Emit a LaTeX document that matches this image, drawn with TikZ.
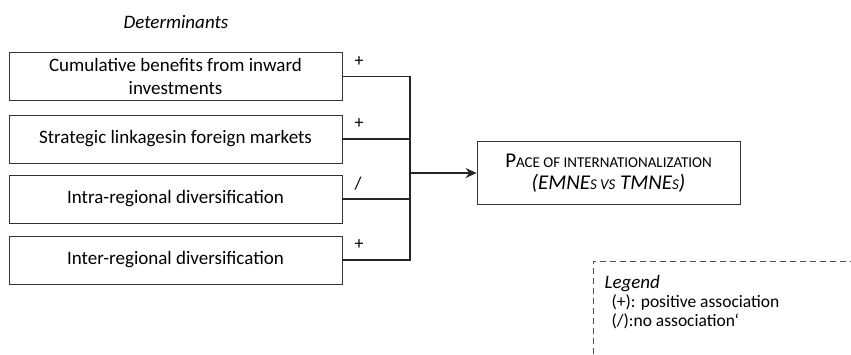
\documentclass[tikz,border=0pt]{standalone}
\usepackage{fontspec}
\setmainfont{Carlito}
\usetikzlibrary{arrows.meta}
\newcommand{\fsc}[1]{{\fontsize{15}{22}\selectfont #1}}
\begin{document}
\begin{tikzpicture}[
    x=1pt, y=-1pt,
    box/.style={draw=black!80, line width=0.8pt, minimum width=333pt,
                minimum height=48pt, font=\fontsize{19}{23}\selectfont,
                align=center, inner sep=2pt},
    goal/.style={draw=black!80, line width=0.8pt, minimum width=263pt,
                 minimum height=63pt, font=\fontsize{21}{22}\selectfont,
                 align=center},
    link/.style={line width=1.8pt, black!85},
    arr/.style={link, -{Stealth[length=11pt, width=10pt]}},
    lbl/.style={font=\fontsize{18}{20}\selectfont, anchor=west},
    legtext/.style={font=\fontsize{17.5}{18}\selectfont, anchor=west},
]
\useasboundingbox (0,0) rectangle (851,354);

% Heading
\node[font=\fontsize{19}{21}\selectfont\itshape] (head) at (176,22) {Determinants};

% Determinant boxes
\node[box] (cum)   at (175.5,76.5) {Cumulative benefits from inward\\investments};
\node[box] (strat) at (175.5,139)  {Strategic linkagesin foreign markets};
\node[box] (intra) at (175.5,199)  {Intra-regional diversification};
\node[box] (inter) at (175.5,260)  {Inter-regional diversification};

% Outcome
\node[goal] (pace) at (608.5,173)
    {P\fsc{ACE OF INTERNATIONALIZATION}\\\textit{(EMNE\fsc{S VS} TMNE\fsc{S})}};

% Links to the collecting line
\coordinate (top) at (410,77);
\coordinate (bot) at (410,259);
\draw[link] (cum.east)   -| (top) -- (bot);
\draw[link] (strat.east) -- (strat.east -| top);
\draw[link] (intra.east) -- (intra.east -| top);
\draw[link] (inter.east) -| (bot);
\draw[arr] (pace.west -| top) -- (pace.west);

% Signs
\node[lbl] (s1) at (351,62)  {+};
\node[lbl] (s2) at (351,124) {+};
\node[lbl] (s3) at (351,184) {/};
\node[lbl] (s4) at (351,245) {+};

% Legend
\draw[dash pattern=on 6pt off 4pt, black!70, line width=0.7pt]
    (593,354) -- (593,261) -- (851,261);
\node[font=\fontsize{19}{21}\selectfont\itshape, anchor=west] (leg) at (601,284) {Legend};
\node[legtext] (pos)  at (608,303) {(+): positive association};
\node[legtext] (none) at (608,321) {(/):no association\symbol{"60}};

\end{tikzpicture}
\end{document}
